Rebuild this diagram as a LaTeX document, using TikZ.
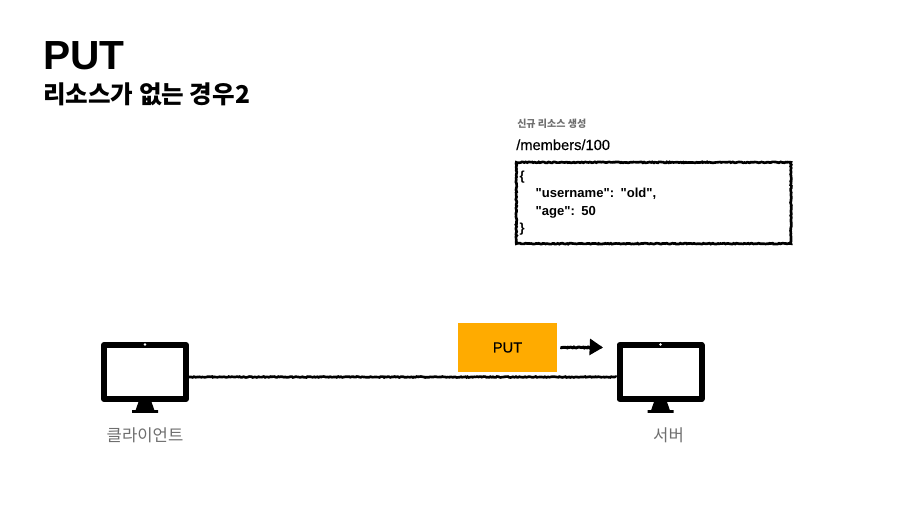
\documentclass[tikz,border=0pt]{standalone}
\usepackage{fontspec}
\setmainfont{Liberation Sans}
\newfontfamily\krfont{Noto Sans CJK KR}
\newfontfamily\jsonfont{Liberation Sans}
\newfontfamily\medfont[FakeBold=0.3]{Liberation Sans}
\usetikzlibrary{decorations.pathmorphing,arrows.meta,positioning}
\definecolor{putorange}{HTML}{FFAB00}
\definecolor{labelgray}{HTML}{6E6E6E}
\tikzset{
  rough/.style={decorate,decoration={random steps,segment length=1pt,amplitude=0.35pt}},
  monitorbox/.style={draw=black,fill=white,line width=4.5pt,line join=round,minimum width=61.5pt,minimum height=40.5pt,inner sep=0pt},
  monitorlabel/.style={font=\krfont\fontsize{12.5}{14}\selectfont,text=labelgray,inner sep=0pt},
  monitorstand/.pic={
    \fill[black] (-4.9pt,0) -- (4.9pt,0) -- (7pt,-6pt) -- (9.75pt,-6pt) -- (9.75pt,-8.2pt) -- (-9.75pt,-8.2pt) -- (-9.75pt,-6pt) -- (-7pt,-6pt) -- cycle;
  }
}
\begin{document}
\begin{tikzpicture}[x=0.75pt,y=-0.75pt]
  \useasboundingbox (0,0) rectangle (922,504);
  \node[anchor=base west,inner sep=0pt,font=\bfseries\fontsize{30.5}{32}\selectfont] (title) at (43,69) {PUT};
  \node[anchor=base west,inner sep=0pt,font=\krfont\bfseries\fontsize{18.4}{20}\selectfont] (subtitle) at (43,103) {리소스가 없는 경우2};
  \node[anchor=base west,inner sep=0pt,text=labelgray,font=\krfont\bfseries\fontsize{7.5}{9}\selectfont] (newres) at (517,127) {신규 리소스 생성};
  \node[anchor=base west,inner sep=0pt,font=\medfont\fontsize{11}{12}\selectfont] (path) at (516,150) {/members/100};
  \node[draw=black,line width=2pt,rough,minimum width=206pt,minimum height=61pt,anchor=north west,inner sep=2pt,text width=201pt,align=left,font=\jsonfont\bfseries\fontsize{9.8}{13}\selectfont] (data) at (515,161) {\{\\\hspace*{12pt}"username": "old",\\\hspace*{12pt}"age": 50\\\}};
  \node[monitorbox] (client) at (145,372) {};
  \node[monitorbox] (server) at (660.5,372) {};
  \fill[white] (145,344.5) circle (1pt) (660.5,344.5) circle (1pt);
  \pic at (145,402) {monitorstand};
  \pic at (660.5,402) {monitorstand};
  \node[monitorlabel,below=19pt of client] (clientlabel) {클라이언트};
  \node[monitorlabel,below=19pt of server,xshift=6pt] (serverlabel) {서버};
  \draw[line width=2pt,rough] (client.east |- 0,377) -- (server.west |- 0,377);
  \node[fill=putorange,minimum width=74.5pt,minimum height=37pt,inner sep=0pt,font=\medfont\fontsize{11}{12}\selectfont] (putbox) at (507.5,347.5) {PUT};
  \coordinate (arrowend) at (603,347.5);
  \draw[line width=2.2pt,rough,-{Triangle[length=10pt,width=12pt]}] ([xshift=2.2pt]putbox.east) -- (arrowend);
\end{tikzpicture}
\end{document}
